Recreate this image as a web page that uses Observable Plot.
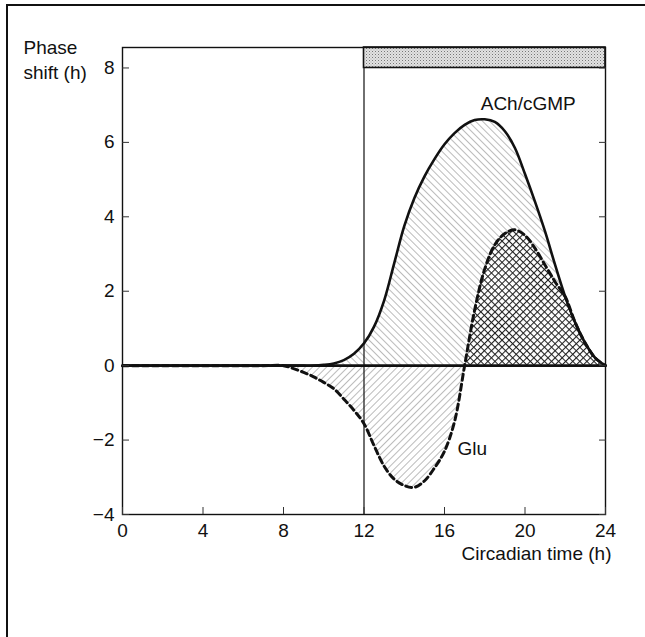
<!DOCTYPE html>
<html>
<head>
<meta charset="utf-8">
<script src="https://cdn.jsdelivr.net/npm/d3@7"></script>
<script src="https://cdn.jsdelivr.net/npm/@observablehq/plot@0.6"></script>
<style>
  html, body { margin: 0; padding: 0; background: #fff; }
  #wrap { position: relative; width: 645px; height: 637px; overflow: hidden; }
  #border { position: absolute; left: 6px; top: 4px; width: 645px; height: 640px;
            border-left: 2px solid #111; border-top: 2px solid #111; pointer-events: none; }
  #chart { position: absolute; left: 0; top: 0; }
</style>
</head>
<body>
<div id="wrap"><div id="chart"></div><div id="border"></div></div>
<script>
// ---- data ----
const hours = [0,1,2,3,4,5,6,7,8,8.5,9,9.5,10,10.5,11,11.5,12,12.5,13,13.5,14,14.5,15,15.5,16,16.5,17,17.5,18,18.5,19,19.5,20,20.5,21,21.5,22,22.5,23,23.5,24];
const achCGMP = [0,0,0,0,0,0,0,0,0,0,0,0,0.02,0.06,0.15,0.32,0.6,1.05,1.75,2.75,3.75,4.5,5.08,5.55,5.95,6.25,6.47,6.6,6.62,6.55,6.3,5.85,5.15,4.4,3.6,2.7,1.85,1.15,0.6,0.2,0];
const glu     = [0,0,0,0,0,0,0,0,0,-0.08,-0.18,-0.3,-0.45,-0.62,-0.9,-1.2,-1.56,-2.15,-2.7,-3.05,-3.22,-3.27,-3.1,-2.75,-2.3,-1.5,0.0,1.5,2.6,3.25,3.55,3.65,3.5,3.15,2.7,2.25,1.85,1.15,0.6,0.2,0];
const xTicks = [0,4,8,12,16,20,24];
const yTicks = [-4,-2,0,2,4,6,8];
const nightBar = [{start: 12, end: 24, low: 8, high: 8.55}];
const nightOnset = [12];
const yDomain = [-4, 8.55];
const xDomain = [0, 24];
const labels = [
  {t: 17.8, v: 7.04, text: "ACh/cGMP"},
  {t: 16.65, v: -2.25, text: "Glu"}
];
const yTitle = "Phase\nshift (h)";
const xTitle = "Circadian time (h)";

const data = hours.map((t, i) => ({t, ach: achCGMP[i], glu: glu[i]}));
const curve = "catmull-rom";

const chart = Plot.plot({
  width: 645,
  height: 637,
  marginLeft: 122,
  marginRight: 40,
  marginTop: 47,
  marginBottom: 123,
  x: {domain: xDomain, label: null},
  y: {domain: yDomain, label: null},
  style: {fontFamily: "'Liberation Sans', Arial, Helvetica, sans-serif", fontSize: "19px", color: "#111", background: "white", overflow: "visible"},
  marks: [
    Plot.areaY(data, {x: "t", y: "ach", fill: "url(#hBack)", curve}),
    Plot.areaY(data, {x: "t", y: "glu", fill: "url(#hFwd)", curve}),
    Plot.areaY(data, {x: "t", y: d => Math.max(0, Math.min(d.glu, d.ach)), fill: "url(#hCross)", curve}),
    Plot.rect(nightBar, {x1: "start", x2: "end", y1: "low", y2: "high", fill: "url(#stipple)", stroke: "#111", strokeWidth: 1.6}),
    Plot.ruleX(nightOnset, {y1: yDomain[0], y2: nightBar[0].low, stroke: "#222", strokeWidth: 1.3}),
    Plot.ruleY([0], {stroke: "#111", strokeWidth: 2.6}),
    Plot.line(data, {x: "t", y: "glu", stroke: "#111", strokeWidth: 3, strokeDasharray: "6,4", curve}),
    Plot.line(data, {x: "t", y: "ach", stroke: "#111", strokeWidth: 2.6, curve}),
    Plot.frame({stroke: "#111", strokeWidth: 1.4}),
    Plot.axisY({ticks: yTicks, tickSize: 0, tickPadding: 8, label: null}),
    Plot.axisY({ticks: yTicks, tickSize: -7, fill: "none", label: null, stroke: "#333"}),
    Plot.axisY({anchor: "right", ticks: yTicks, tickSize: -7, fill: "none", label: null, stroke: "#333"}),
    Plot.axisX({ticks: xTicks, tickSize: 0, tickPadding: 9, label: null}),
    Plot.axisX({ticks: xTicks, tickSize: -7, fill: "none", label: null, stroke: "#333"}),
    Plot.text(labels, {x: "t", y: "v", text: "text", textAnchor: "start", fill: "#111", fontSize: 19}),
    Plot.text([yTitle], {frameAnchor: "top-left", dx: -99, dy: -11, textAnchor: "start", lineAnchor: "top", lineHeight: 1.3, fill: "#111", fontSize: 19}),
    Plot.text([xTitle], {frameAnchor: "bottom-right", dx: 6, dy: 39, textAnchor: "end", lineAnchor: "middle", fill: "#111", fontSize: 19})
  ]
});

// patterns used by the fills
const svg = d3.select(chart);
const defs = svg.insert("defs", ":first-child");
const back = defs.append("pattern").attr("id", "hBack").attr("patternUnits", "userSpaceOnUse")
  .attr("width", 5).attr("height", 5).attr("patternTransform", "rotate(-45)");
back.append("line").attr("x1", 0).attr("y1", 0).attr("x2", 0).attr("y2", 5).attr("stroke", "#777").attr("stroke-width", 1);
const fwd = defs.append("pattern").attr("id", "hFwd").attr("patternUnits", "userSpaceOnUse")
  .attr("width", 5).attr("height", 5).attr("patternTransform", "rotate(45)");
fwd.append("line").attr("x1", 0).attr("y1", 0).attr("x2", 0).attr("y2", 5).attr("stroke", "#777").attr("stroke-width", 1);
const cross = defs.append("pattern").attr("id", "hCross").attr("patternUnits", "userSpaceOnUse")
  .attr("width", 5).attr("height", 5).attr("patternTransform", "rotate(45)");
cross.append("rect").attr("width", 5).attr("height", 5).attr("fill", "#fff");
cross.append("line").attr("x1", 0.5).attr("y1", 0).attr("x2", 0.5).attr("y2", 5).attr("stroke", "#222").attr("stroke-width", 1.1);
cross.append("line").attr("x1", 0).attr("y1", 0.5).attr("x2", 5).attr("y2", 0.5).attr("stroke", "#222").attr("stroke-width", 1.1);
const stip = defs.append("pattern").attr("id", "stipple").attr("patternUnits", "userSpaceOnUse")
  .attr("width", 3).attr("height", 3);
stip.append("rect").attr("width", 3).attr("height", 3).attr("fill", "#e2e2e2");
stip.append("rect").attr("width", 1).attr("height", 1).attr("fill", "#777");
stip.append("rect").attr("x", 1.5).attr("y", 1.5).attr("width", 1).attr("height", 1).attr("fill", "#aaa");

document.getElementById("chart").appendChild(chart);
</script>
</body>
</html>
